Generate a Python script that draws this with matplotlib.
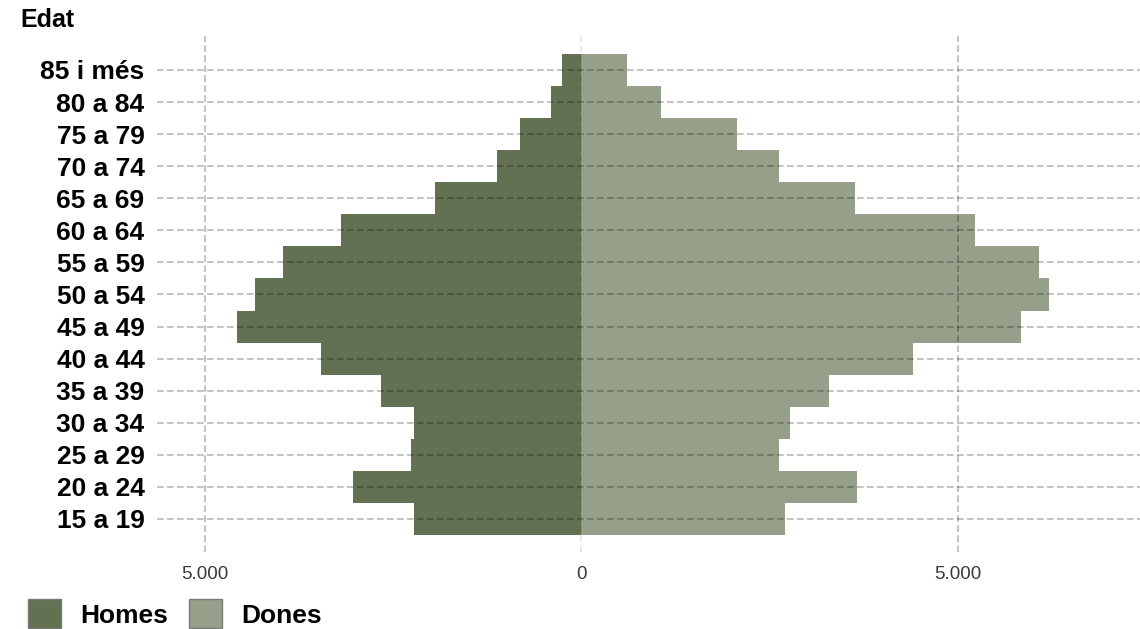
import matplotlib.pyplot as plt
from matplotlib.patches import Patch
from matplotlib.ticker import FuncFormatter

plt.rcParams['font.family'] = ['Liberation Sans', 'DejaVu Sans']

# age groups, from youngest to oldest
ages = ['15 a 19', '20 a 24', '25 a 29', '30 a 34', '35 a 39', '40 a 44', '45 a 49',
        '50 a 54', '55 a 59', '60 a 64', '65 a 69', '70 a 74', '75 a 79', '80 a 84', '85 i més']
homes = [2220, 3030, 2260, 2220, 2665, 3460, 4580, 4340, 3970, 3190, 1940, 1120, 820, 400, 265]
dones = [2700, 3660, 2625, 2775, 3285, 4400, 5840, 6215, 6080, 5230, 3640, 2630, 2060, 1055, 605]
xticks = [-5000, 0, 5000]

col_h = '#637153'
col_d = '#969f89'

fig = plt.figure(figsize=(11.4, 6.29), dpi=100)
ax = fig.add_axes([0.1377, 0.1224, 0.8623, 0.8204])

y = range(len(ages))
ax.barh(y, [-v for v in homes], height=1.0, color=col_h, linewidth=0)
ax.barh(y, dones, height=1.0, color=col_d, linewidth=0)

# grid on top of the bars
for i in y:
    ax.axhline(i, color='black', alpha=0.28, lw=1.2, ls=(0, (4, 2)), zorder=5)
for t in xticks:
    a = 0.1 if t == 0 else 0.28
    ax.axvline(t, color='black', alpha=a, lw=1.2, ls=(0, (4, 2)), zorder=5)

ax.set_xlim(-5640, 7420)
ax.set_ylim(-1.03, 15.06)
ax.set_yticks(list(y))
ax.set_yticklabels(ages, fontsize=19, fontweight='bold')
ax.set_xticks(xticks)
ax.xaxis.set_major_formatter(FuncFormatter(lambda v, p: f'{abs(int(v)):,}'.replace(',', '.')))
ax.tick_params(axis='x', length=0, pad=10, labelsize=13.5, labelcolor='#3a3a3a')
ax.tick_params(axis='y', length=0, pad=9)
for s in ax.spines.values():
    s.set_visible(False)

fig.text(20 / 1140, 1 - 27 / 629, 'Edat', fontsize=18, fontweight='bold')

handles = [Patch(facecolor=col_h, edgecolor='#7a7a7a', label='Homes'),
           Patch(facecolor=col_d, edgecolor='#7a7a7a', label='Dones')]
leg = fig.legend(handles=handles, loc='lower left', bbox_to_anchor=(10 / 1140, -0.028),
                 ncol=2, frameon=False, prop={'size': 19, 'weight': 'bold'},
                 handlelength=1.22, handleheight=1.3, handletextpad=0.75,
                 columnspacing=0.8, borderpad=0.2)

fig.savefig('out.png', dpi=100)
